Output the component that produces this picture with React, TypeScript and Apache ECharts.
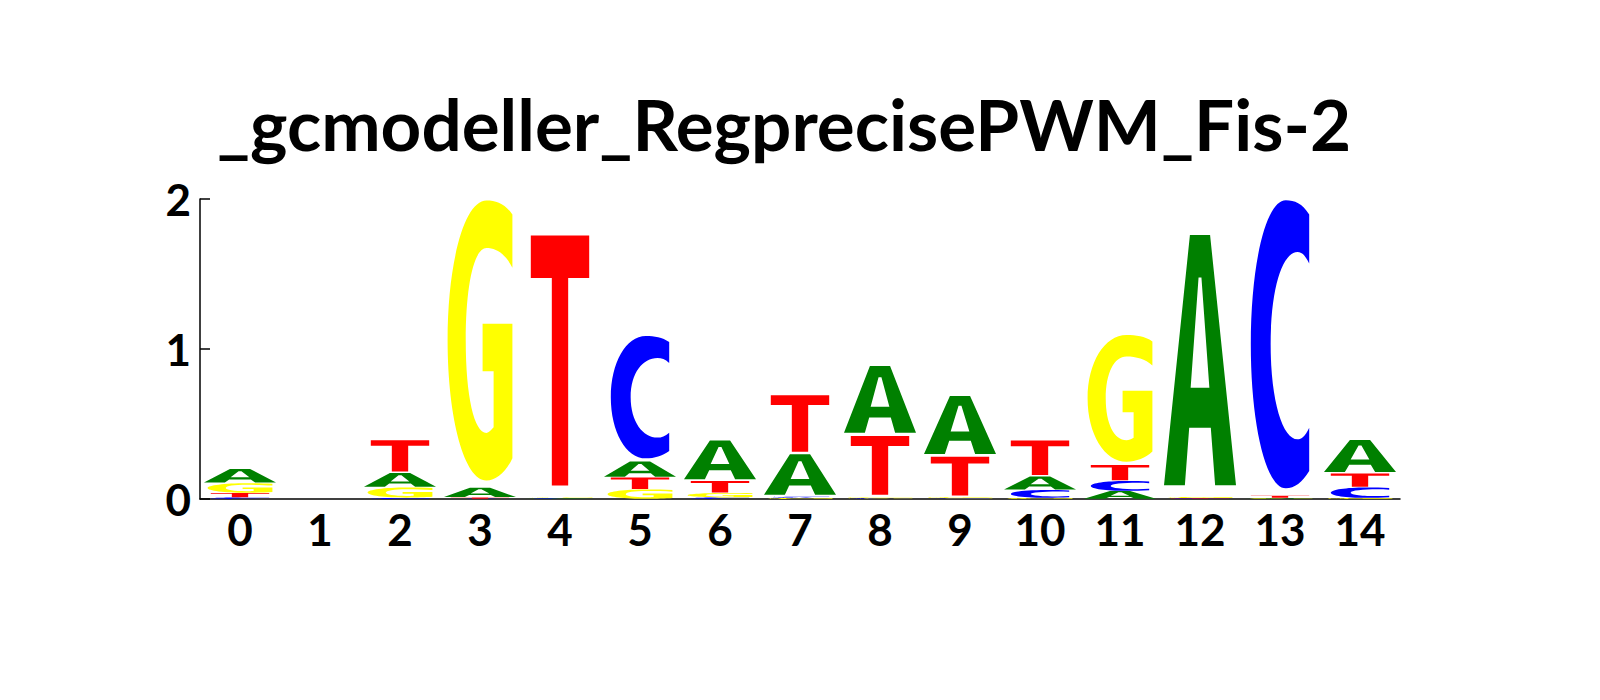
import React, { useEffect, useRef } from 'react';
import * as echarts from 'echarts';

// motif positions and per-letter heights (bits)
const POSITIONS = ['0', '1', '2', '3', '4', '5', '6', '7', '8', '9', '10', '11', '12', '13', '14'];
const A_BITS = [0.095, 0, 0.097, 0.065, 0.003, 0.107, 0.27, 0.283, 0.467, 0.406, 0.09, 0.053, 1.747, 0.003, 0.223];
const C_BITS = [0.01, 0, 0.007, 0.002, 0.004, 0.837, 0.01, 0.008, 0.004, 0.005, 0.053, 0.067, 0.003, 1.97, 0.071];
const G_BITS = [0.065, 0, 0.07, 1.915, 0.005, 0.063, 0.03, 0.007, 0.006, 0.006, 0.007, 0.866, 0.007, 0.004, 0.006];
const T_BITS = [0.03, 0, 0.217, 0.008, 1.745, 0.08, 0.08, 0.393, 0.41, 0.27, 0.24, 0.107, 0.003, 0.015, 0.093];
const Y_TICKS = [0, 1, 2];

const LETTERS = ['A', 'C', 'G', 'T'];
const COLORS = ['#008000', '#0000FF', '#FFFF00', '#FF0000'];
// glyph width as share of a column, and empty space under the glyph as share of its height
const WIDTHS = [0.9, 0.73, 0.81, 0.73];
const GAPS = [0.045, 0.025, 0.025, 0.045];

const GLYPHS = [
  'M36,0 L64,0 L100,100 L71,100 L65,77 L35,77 L29,100 L0,100 Z M37,61 L63,61 L52,17 L48,17 Z',
  'M100,5 C88,1 75,0 60,0 C26,0 0,22 0,50 C0,78 26,100 60,100 C75,100 88,98 100,94 L100,79 ' +
    'C93,82 87,83 80,83 C55,83 34,70 34,50 C34,30 55,18 80,18 C87,18 93,19 100,22 Z',
  'M100,5 C88,1 75,0 60,0 C26,0 0,22 0,50 C0,78 26,100 60,100 C75,100 90,97 100,92 L100,44 ' +
    'L54,44 L54,61 L71,61 L71,81 C67,82 64,83 60,83 C41,83 28,70 28,50 C28,30 41,17 60,17 ' +
    'C75,17 89,19 100,24 Z',
  'M0,0 L100,0 L100,17 L64,17 L64,100 L36,100 L36,17 L0,17 Z',
];

const FONT = 'Lato';

const App: React.FC = () => {
  const chartRef = useRef<HTMLDivElement>(null);

  useEffect(() => {
    document.body.style.margin = '0';
    const chart = echarts.init(chartRef.current!, null, { renderer: 'svg' });

    const bits = [A_BITS, C_BITS, G_BITS, T_BITS];
    // stack letters per column, smallest at the bottom
    const stacked: number[][] = [];
    POSITIONS.forEach((_, i) => {
      const order = [0, 1, 2, 3]
        .filter((k) => bits[k][i] > 0)
        .sort((a, b) => bits[a][i] - bits[b][i]);
      let base = 0;
      order.forEach((k) => {
        stacked.push([i, base, bits[k][i], k]);
        base += bits[k][i];
      });
    });

    const option = {
      animation: false,
      grid: { left: 200, top: 199, width: 1200, height: 300 },
      graphic: [
        {
          type: 'text',
          x: 784,
          y: 123,
          style: {
            text: '_gcmodeller_RegprecisePWM_Fis-2',
            fontFamily: FONT,
            fontWeight: 'bold',
            fontSize: 71,
            fill: '#000',
            textAlign: 'center',
            textVerticalAlign: 'middle',
          },
        },
      ],
      xAxis: {
        type: 'category',
        data: POSITIONS,
        axisLine: { show: true, lineStyle: { color: '#000', width: 1.5 } },
        axisTick: { show: false },
        axisLabel: {
          color: '#000',
          fontFamily: FONT,
          fontWeight: 'bold',
          fontSize: 44,
          margin: 8,
        },
        splitLine: { show: false },
      },
      yAxis: {
        type: 'value',
        min: Y_TICKS[0],
        max: Y_TICKS[Y_TICKS.length - 1],
        interval: 1,
        axisLine: { show: true, lineStyle: { color: '#000', width: 1.5 } },
        axisTick: { show: true, inside: true, length: 10, lineStyle: { color: '#000', width: 1.5 } },
        axisLabel: {
          color: '#000',
          fontFamily: FONT,
          fontWeight: 'bold',
          fontSize: 44,
          margin: 9,
        },
        splitLine: { show: false },
      },
      series: [
        {
          type: 'custom',
          name: LETTERS.join(''),
          data: stacked,
          encode: { x: 0, y: 1 },
          renderItem: (params: any, api: any) => {
            const x = api.value(0);
            const base = api.value(1);
            const h = api.value(2);
            const k = api.value(3);
            const p0 = api.coord([x, base]);
            const p1 = api.coord([x, base + h]);
            const slot = api.size([1, 0])[0];
            const w = slot * WIDTHS[k];
            const full = p0[1] - p1[1];
            return {
              type: 'path',
              shape: {
                pathData: GLYPHS[k],
                layout: 'cover',
                x: p0[0] - w / 2,
                y: p1[1],
                width: w,
                height: Math.max(full * (1 - GAPS[k]), 0.2),
              },
              style: { fill: COLORS[k] },
            };
          },
        },
      ],
    };

    chart.setOption(option);

    return () => {
      chart.dispose();
    };
  }, []);

  return <div ref={chartRef} style={{ width: 1600, height: 700 }} />;
};

export default App;
